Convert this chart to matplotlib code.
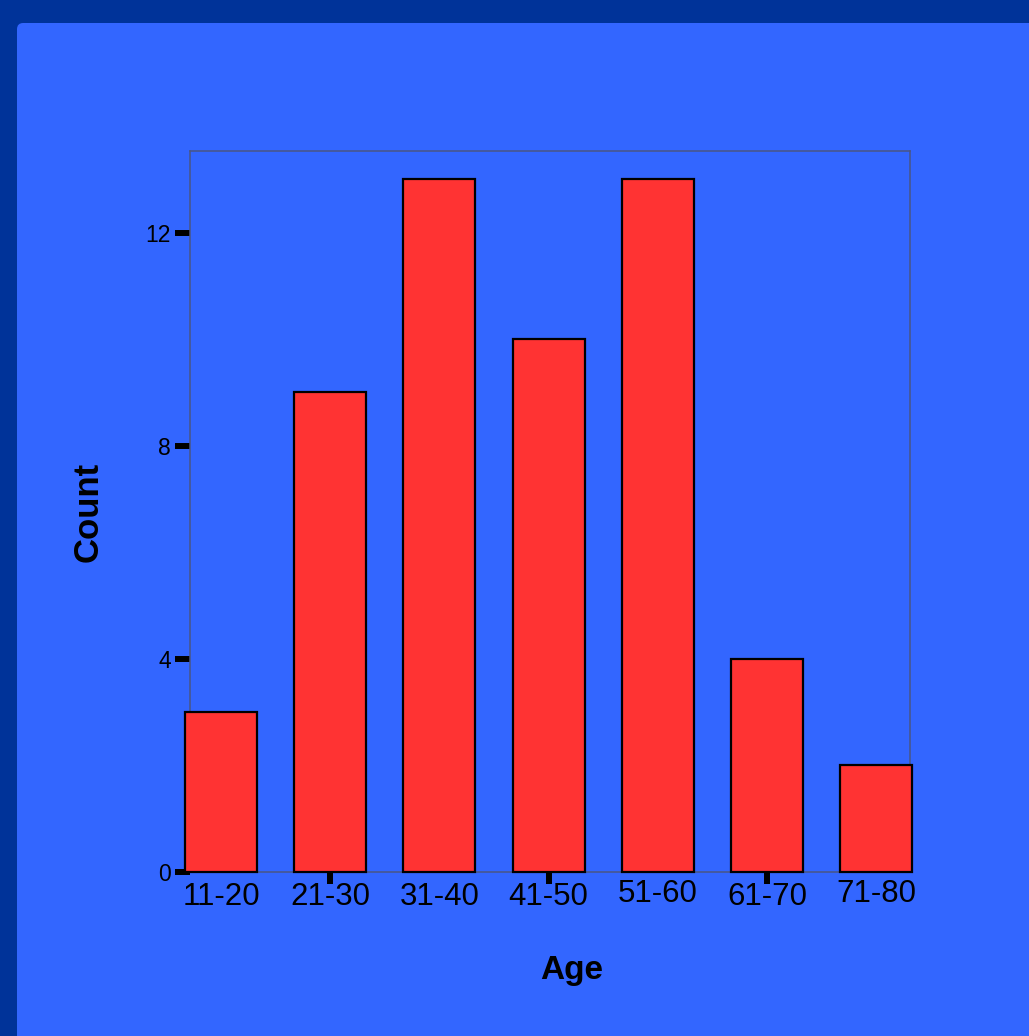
import matplotlib
matplotlib.use("Agg")
import matplotlib.pyplot as plt
from matplotlib.patches import FancyBboxPatch

# data
age_groups = ["11-20", "21-30", "31-40", "41-50", "51-60", "61-70", "71-80"]
counts = [3, 9, 13, 10, 13, 4, 2]
y_ticks = [0, 4, 8, 12]

plt.rcParams["font.family"] = ["Liberation Sans", "DejaVu Sans"]

fig = plt.figure(figsize=(10.29, 10.36), dpi=100, facecolor="#003399")

# lighter panel with rounded corner
panel = FancyBboxPatch((17 / 1029, -0.1), 1.2, (1036 - 23) / 1036 + 0.1,
                       boxstyle="round,pad=0,rounding_size=0.006",
                       transform=fig.transFigure, facecolor="#3366FF",
                       edgecolor="none", zorder=-5)
fig.patches.append(panel)

ax = fig.add_axes([190 / 1029, (1036 - 872) / 1036, 720 / 1029, 721 / 1036])
ax.set_facecolor("none")

x = list(range(len(age_groups)))
ax.bar(x, counts, width=0.66, color="#FF3333", edgecolor="black",
       linewidth=1.6, clip_on=False, zorder=3)

ax.set_xlim(-0.284, 6.31)
ax.set_ylim(0, 13.53)

for s in ax.spines.values():
    s.set_color("#4a5684")
    s.set_linewidth(1.1)

ax.set_yticks(y_ticks)
ax.tick_params(axis="y", length=10.8, width=4.3, color="black",
               labelsize=16.5, pad=3)
ax.set_xticks(x)
ax.set_xticklabels(age_groups)
ax.tick_params(axis="x", which="major", length=0, labelsize=22.5, pad=7.5)
# only every other category has a visible tick mark
ax.xaxis.remove_overlapping_locs = False
ax.set_xticks([1, 3, 5], minor=True)
ax.tick_params(axis="x", which="minor", length=8.6, width=4.3, color="black")
# a couple of labels sit a little higher in the original
for i in (4, 6):
    ax.xaxis.get_major_ticks()[i].set_pad(5.3)

ax.set_ylabel("Count", fontsize=25, fontweight="bold")
ax.yaxis.set_label_coords(-0.142, 0.5)
ax.yaxis.label.set_va("center")
ax.set_xlabel("Age", fontsize=24, fontweight="bold")
ax.xaxis.set_label_coords(0.53, -0.136)
ax.xaxis.label.set_va("center")

fig.savefig("out.png", dpi=100, facecolor=fig.get_facecolor())
